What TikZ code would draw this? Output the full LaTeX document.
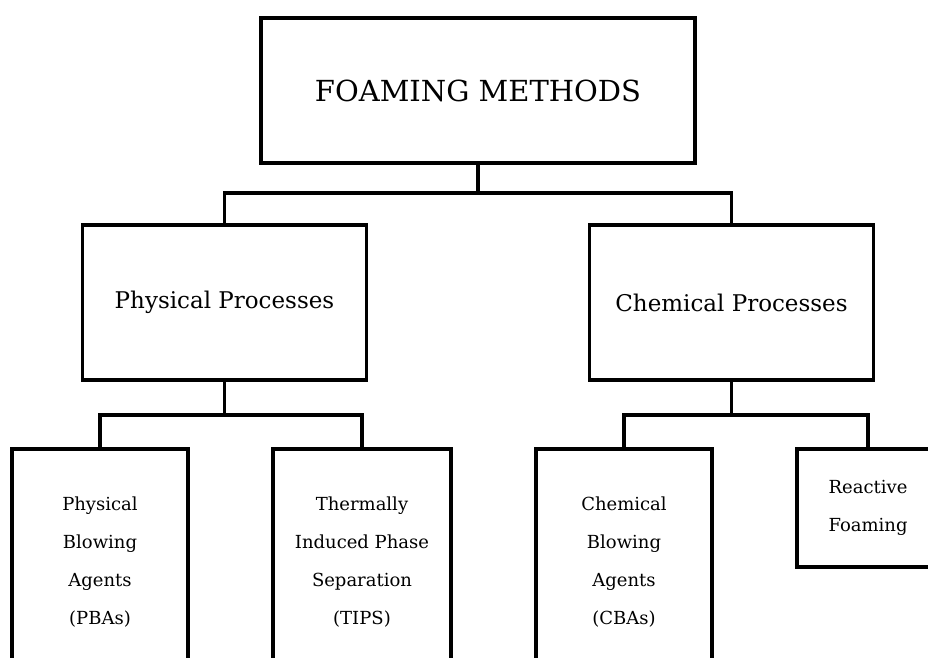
\documentclass[tikz,border=0pt]{standalone}
\usepackage{fontspec}
\setmainfont{DejaVu Serif}
\usetikzlibrary{positioning}

\begin{document}
\begin{tikzpicture}[
        line width=3.3pt,
        box/.style={rectangle, draw, fill=white, text=black, inner sep=0pt,
            outer sep=0pt, align=center},
        topbox/.style={box, minimum width=434pt, minimum height=145pt,
            font=\fontsize{29pt}{35pt}\selectfont},
        midbox/.style={box, minimum width=284pt, minimum height=155pt,
            font=\fontsize{23pt}{27pt}\selectfont},
        leafbox/.style={box, minimum width=#1, minimum height=226pt,
            font=\fontsize{18pt}{38pt}\selectfont},
        leafbox/.default=176pt
    ]
        \useasboundingbox (0,0) rectangle (928pt,-657pt);
        \clip (0,0) rectangle (928pt,-657pt);

        \node[topbox] (foam) at (478pt,-90.5pt) {FOAMING METHODS};

        \node[midbox, below=62pt of foam, xshift=-253.5pt] (phys) {Physical Processes};
        \node[midbox, right=223pt of phys] (chem) {Chemical Processes};
        \draw (foam.south) -- ++(0,-30pt) -| (phys.north);
        \draw (foam.south) -- ++(0,-30pt) -| (chem.north);

        \node[leafbox, below=69pt of phys, xshift=-124.5pt] (pba) {Physical\\Blowing\\Agents\\(PBAs)};
        \node[leafbox=178pt, right=85pt of pba] (tips) {Thermally\\Induced Phase\\Separation\\(TIPS)};
        \draw (phys.south) -- ++(0,-35pt) -| (pba.north);
        \draw (phys.south) -- ++(0,-35pt) -| (tips.north);

        \node[leafbox, below=69pt of chem, xshift=-107.5pt] (cba) {Chemical\\Blowing\\Agents\\(CBAs)};
        \node[leafbox=142pt, minimum height=118pt, right=85pt of cba.north east, anchor=north west] (react) {Reactive\\Foaming};
        \draw (chem.south) -- ++(0,-35pt) -| (cba.north);
        \draw (chem.south) -- ++(0,-35pt) -| (react.north);
    \end{tikzpicture}
\end{document}
